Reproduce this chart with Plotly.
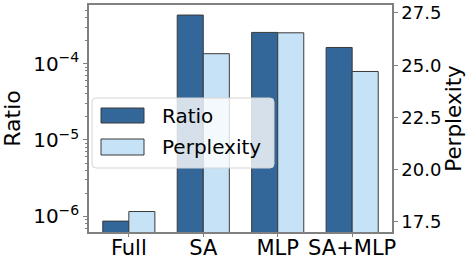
import plotly.graph_objects as go

categories = ["Full", "SA", "MLP", "SA+MLP"]
ratio_values = [8.7e-7, 4.3e-4, 2.55e-4, 1.62e-4]
perplexity_values = [18.0, 25.55, 26.55, 24.7]
series_names = ["Ratio", "Perplexity"]
series_colors = ["#336699", "#c6e2f6"]
ratio_ticks = [1e-6, 1e-5, 1e-4]
ratio_ticktext = ["10<sup>−6</sup>", "10<sup>−5</sup>", "10<sup>−4</sup>"]
ppl_ticks = [17.5, 20.0, 22.5, 25.0, 27.5]

W, H = 471, 256
ML, MR, MT, MB = 89, 79, 5, 24
PW, PH = W - ML - MR, H - MT - MB

xs = list(range(len(categories)))
FONT = "DejaVu Sans"
EDGE = "#3a3a3a"
SPINE = "#808080"

minor_vals = []
for e in (-7, -6, -5, -4):
    for m in range(2, 10):
        minor_vals.append(m * 10 ** e)


def px_x(p):
    return (p - ML) / PW


def px_y(p):
    return (H - MB - p) / PH


fig = go.Figure()
fig.add_trace(go.Bar(
    x=xs, y=ratio_values, name=series_names[0], width=0.35, offset=-0.35,
    marker=dict(color=series_colors[0], line=dict(color=EDGE, width=1)),
    yaxis="y", showlegend=False,
))
fig.add_trace(go.Bar(
    x=xs, y=perplexity_values, name=series_names[1], width=0.35, offset=0,
    marker=dict(color=series_colors[1], line=dict(color=EDGE, width=1)),
    yaxis="y2", showlegend=False,
))

# legend drawn as box + patches + labels (paper coordinates)
lx0, lx1, ly0, ly1 = 92, 274, 98, 168
r = 4
path = (f"M {px_x(lx0 + r)},{px_y(ly0)} L {px_x(lx1 - r)},{px_y(ly0)} "
        f"Q {px_x(lx1)},{px_y(ly0)} {px_x(lx1)},{px_y(ly0 + r)} "
        f"L {px_x(lx1)},{px_y(ly1 - r)} Q {px_x(lx1)},{px_y(ly1)} {px_x(lx1 - r)},{px_y(ly1)} "
        f"L {px_x(lx0 + r)},{px_y(ly1)} Q {px_x(lx0)},{px_y(ly1)} {px_x(lx0)},{px_y(ly1 - r)} "
        f"L {px_x(lx0)},{px_y(ly0 + r)} Q {px_x(lx0)},{px_y(ly0)} {px_x(lx0 + r)},{px_y(ly0)} Z")
shapes = [dict(type="path", xref="paper", yref="paper", path=path,
               fillcolor="rgba(255,255,255,0.8)", line=dict(color="#d5d5d5", width=1), layer="above")]
annotations = []
rows = [(108, 123, 116), (139, 155, 147)]
for (y0, y1, yc), name, col in zip(rows, series_names, series_colors):
    shapes.append(dict(type="rect", xref="paper", yref="paper",
                       x0=px_x(101), x1=px_x(144), y0=px_y(y1), y1=px_y(y0),
                       fillcolor=col, line=dict(color=EDGE, width=1), layer="above"))
    annotations.append(dict(xref="paper", yref="paper", x=px_x(160), y=px_y(yc),
                            xanchor="left", yanchor="middle", showarrow=False,
                            text=name, font=dict(family=FONT, size=20, color="black")))

fig.update_layout(
    width=W, height=H,
    margin=dict(l=ML, r=MR, t=MT, b=MB, autoexpand=False),
    paper_bgcolor="white", plot_bgcolor="white",
    font=dict(family=FONT, size=20, color="black"),
    showlegend=False,
    shapes=shapes,
    annotations=annotations,
    xaxis=dict(
        range=[-0.535, 3.535], tickvals=xs, ticktext=categories,
        showline=True, linecolor=SPINE, linewidth=1.5, mirror=True,
        ticks="outside", ticklen=3, tickcolor=SPINE, showgrid=False, zeroline=False,
        tickfont=dict(size=21), automargin=False, ticklabelstandoff=-7,
    ),
    yaxis=dict(
        type="log", range=[-6.203, -3.235],
        tickvals=ratio_ticks, ticktext=ratio_ticktext,
        ticks="outside", ticklen=4, tickcolor=SPINE,
        minor=dict(tickvals=minor_vals, ticks="outside", ticklen=2, tickcolor=SPINE),
        showline=True, linecolor=SPINE, linewidth=1.5, showgrid=False, zeroline=False,
        title=dict(text="Ratio", font=dict(size=22), standoff=6),
        tickfont=dict(size=20), automargin=False,
    ),
    yaxis2=dict(
        overlaying="y", side="right", range=[17.02, 27.88],
        tickvals=ppl_ticks, tickformat=".1f",
        ticks="outside", ticklen=4, tickcolor=SPINE,
        showline=True, linecolor=SPINE, linewidth=1.5, showgrid=False, zeroline=False,
        title=dict(text="Perplexity", font=dict(size=21.5), standoff=4),
        tickfont=dict(size=18), automargin=False,
    ),
)

fig.write_html(
    "out.html",
    config={"displayModeBar": False},
    post_script="document.body.style.margin='0';document.body.style.overflow='hidden';",
)
